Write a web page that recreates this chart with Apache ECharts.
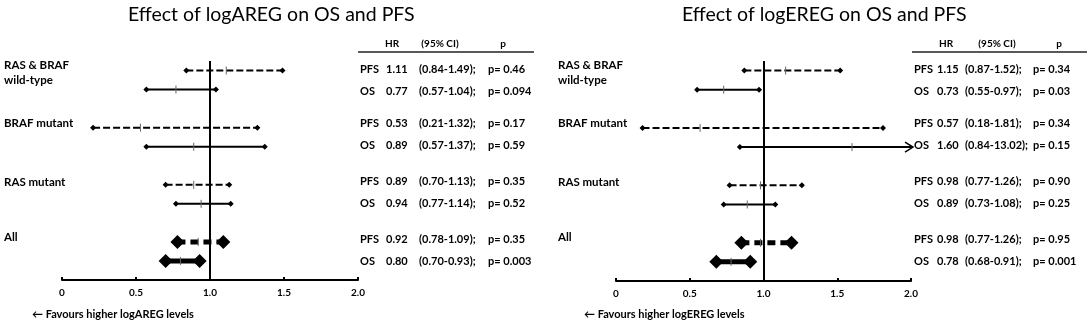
<!DOCTYPE html>
<html>
<head>
<meta charset="utf-8">
<script src="https://cdn.jsdelivr.net/npm/echarts@6/dist/echarts.min.js"></script>
<style>
html,body{margin:0;padding:0;background:#fff;}
#chart{width:1091px;height:324px;}
</style>
</head>
<body>
<div id="chart"></div>
<script>
// ---- data ----
const groups = ['RAS & BRAF\nwild-type', 'BRAF mutant', 'RAS mutant', 'All'];
const measures = ['PFS', 'OS'];
const xTicks = ['0', '0.5', '1.0', '1.5', '2.0'];

const leftTitle = 'Effect of logAREG on OS and PFS';
const rightTitle = 'Effect of logEREG on OS and PFS';
const leftFoot = '\u2190 Favours higher logAREG levels';
const rightFoot = '\u2190 Favours higher logEREG levels';
const tableHeader = ['HR', '(95% CI)', 'p'];

// plotted values (order: grp1 PFS, grp1 OS, grp2 PFS, grp2 OS, ...)
const leftHR = [1.11, 0.77, 0.53, 0.89, 0.89, 0.94, 0.92, 0.80];
const leftLo = [0.84, 0.57, 0.21, 0.57, 0.70, 0.77, 0.78, 0.70];
const leftHi = [1.49, 1.04, 1.32, 1.37, 1.13, 1.14, 1.09, 0.93];

const rightHR = [1.15, 0.73, 0.57, 1.60, 0.98, 0.89, 0.98, 0.78];
const rightLo = [0.87, 0.55, 0.18, 0.84, 0.77, 0.73, 0.85, 0.68];
const rightHi = [1.52, 0.97, 1.81, 13.02, 1.26, 1.08, 1.19, 0.91];

// table text
const leftHRText = ['1.11', '0.77', '0.53', '0.89', '0.89', '0.94', '0.92', '0.80'];
const leftCIText = ['(0.84-1.49);', '(0.57-1.04);', '(0.21-1.32);', '(0.57-1.37);', '(0.70-1.13);', '(0.77-1.14);', '(0.78-1.09);', '(0.70-0.93);'];
const leftPText = ['p= 0.46', 'p= 0.094', 'p= 0.17', 'p= 0.59', 'p= 0.35', 'p= 0.52', 'p= 0.35', 'p= 0.003'];

const rightHRText = ['1.15', '0.73', '0.57', '1.60', '0.98', '0.89', '0.98', '0.78'];
const rightCIText = ['(0.87-1.52);', '(0.55-0.97);', '(0.18-1.81);', '(0.84-13.02);', '(0.77-1.26);', '(0.73-1.08);', '(0.77-1.26);', '(0.68-0.91);'];
const rightPText = ['p= 0.34', 'p= 0.03', 'p= 0.34', 'p= 0.15', 'p= 0.90', 'p= 0.25', 'p= 0.95', 'p= 0.001'];

// ---- layout ----
const FONT = 'Lato';
const XMAX = 2.0;
function rowY(i) { const g = Math.floor(i / 2), m = i % 2; return 11 - 3 * g - m; }

function buildData(hr, lo, hi) {
  return hr.map((h, i) => {
    const g = Math.floor(i / 2);
    return [lo[i], hi[i], h, rowY(i), i % 2 === 0 ? 1 : 0, g === 3 ? 1 : 0];
  });
}

function diamond(cx, cy, w, h) {
  return { type: 'polygon', shape: { points: [[cx - w / 2, cy], [cx, cy - h / 2], [cx + w / 2, cy], [cx, cy + h / 2]] }, style: { fill: '#000' } };
}

function renderItem(params, api) {
  const lo = api.value(0), hi = api.value(1), hr = api.value(2), y = api.value(3);
  const dashed = api.value(4) === 1, big = api.value(5) === 1;
  const over = hi > XMAX;
  const pLo = api.coord([lo, y]);
  const pHi = api.coord([Math.min(hi, XMAX), y]);
  if (over) pHi[0] += 2;
  const pHr = api.coord([hr, y]);
  const lw = big ? 5 : 2;
  const dash = dashed ? (big ? [8, 5] : [7, 3]) : null;
  const children = [];
  children.push({ type: 'line', shape: { x1: pLo[0], y1: pLo[1], x2: pHi[0], y2: pHi[1] }, style: { stroke: '#000', lineWidth: lw, lineDash: dash } });
  children.push({ type: 'line', shape: { x1: pHr[0], y1: pHr[1] - 4, x2: pHr[0], y2: pHr[1] + 4 }, style: { stroke: '#666', lineWidth: 1 } });
  const dw = big ? 14 : 6, dh = big ? 14 : 6;
  children.push(diamond(pLo[0], pLo[1], dw, dh));
  if (over) {
    children.push({ type: 'polyline', shape: { points: [[pHi[0] - 8, pHi[1] - 5], [pHi[0], pHi[1]], [pHi[0] - 8, pHi[1] + 5]] }, style: { stroke: '#000', lineWidth: 1.5, fill: null } });
  } else {
    children.push(diamond(pHi[0], pHi[1], dw, dh));
  }
  return { type: 'group', children: children };
}

function xAxisCfg(idx) {
  return {
    type: 'value', gridIndex: idx, min: 0, max: XMAX, interval: 0.5,
    splitLine: { show: false },
    axisLine: { show: true, lineStyle: { color: '#000', width: 2 } },
    axisTick: { show: true, inside: true, length: 3, lineStyle: { color: '#000', width: 2 } },
    axisLabel: {
      color: '#000', fontFamily: FONT, fontWeight: 'bold', fontSize: 10, margin: 8,
      formatter: v => xTicks[Math.round(v / 0.5)]
    }
  };
}
function yAxisCfg(idx) {
  return { type: 'value', gridIndex: idx, min: 0, max: 11.5, show: false, splitLine: { show: false } };
}
function seriesCfg(idx, data) {
  return {
    type: 'custom', xAxisIndex: idx, yAxisIndex: idx, clip: false,
    renderItem: renderItem, data: data, silent: true,
    encode: { x: [0, 1, 2], y: 3 },
    markLine: {
      silent: true, symbol: 'none', label: { show: false },
      lineStyle: { color: '#000', width: 2, type: 'solid' },
      data: [{ xAxis: 1.0 }]
    },
    z: 3
  };
}

const tableRowsY = [69, 91, 123, 145, 181, 203, 239, 261];
const groupLabelY = [[65, 80], [123], [182], [237]];

function textEl(x, y, text, opt) {
  return {
    type: 'text', x: x, y: y, silent: true,
    style: Object.assign({ text: text, fill: '#000', font: 'bold 11px ' + FONT, textAlign: 'left', textVerticalAlign: 'middle' }, opt || {})
  };
}

function panelGraphics(base, hrT, ciT, pT, cols, lineX, title, titleX, foot, footX) {
  const els = [];
  els.push(textEl(titleX, 15, title, { font: '19.5px ' + FONT }));
  groups.forEach((g, gi) => {
    const lines = g.split('\n');
    lines.forEach((ln, li) => els.push(textEl(base, groupLabelY[gi][li], ln, { font: 'bold 11.5px ' + FONT })));
  });
  // header
  els.push(textEl(cols.hdr[0], 44, tableHeader[0], { textAlign: 'center', font: 'bold 10px ' + FONT }));
  els.push(textEl(cols.hdr[1], 44, tableHeader[1], { textAlign: 'center', font: 'bold 10px ' + FONT }));
  els.push(textEl(cols.hdr[2], 44, tableHeader[2], { textAlign: 'center', font: 'bold 10px ' + FONT }));
  els.push({ type: 'line', silent: true, shape: { x1: lineX[0], y1: 52, x2: lineX[1], y2: 52 }, style: { stroke: '#222', lineWidth: 1.5 } });
  tableRowsY.forEach((y, i) => {
    els.push(textEl(cols.m, y, measures[i % 2]));
    els.push(textEl(cols.hr, y, hrT[i]));
    els.push(textEl(cols.ci, y, ciT[i]));
    els.push(textEl(cols.p, y, pT[i]));
  });
  els.push(textEl(footX, 314, foot, { font: 'bold 11px ' + FONT }));
  return els;
}

const graphics = [].concat(
  panelGraphics(4, leftHRText, leftCIText, leftPText,
    { hdr: [392, 440, 503], m: 360, hr: 386, ci: 419, p: 488 }, [358, 534],
    leftTitle, 128, leftFoot, 32),
  panelGraphics(558, rightHRText, rightCIText, rightPText,
    { hdr: [946, 997, 1059], m: 914, hr: 937, ci: 965, p: 1033 }, [912, 1087],
    rightTitle, 682, rightFoot, 584)
);

const chart = echarts.init(document.getElementById('chart'), null, { renderer: 'canvas' });
chart.setOption({
  animation: false,
  backgroundColor: '#fff',
  grid: [
    { left: 62, width: 296, top: 61, height: 219 },
    { left: 616, width: 295, top: 61, height: 220 }
  ],
  xAxis: [xAxisCfg(0), xAxisCfg(1)],
  yAxis: [yAxisCfg(0), yAxisCfg(1)],
  series: [
    seriesCfg(0, buildData(leftHR, leftLo, leftHi)),
    seriesCfg(1, buildData(rightHR, rightLo, rightHi))
  ],
  graphic: graphics
});
</script>
</body>
</html>
